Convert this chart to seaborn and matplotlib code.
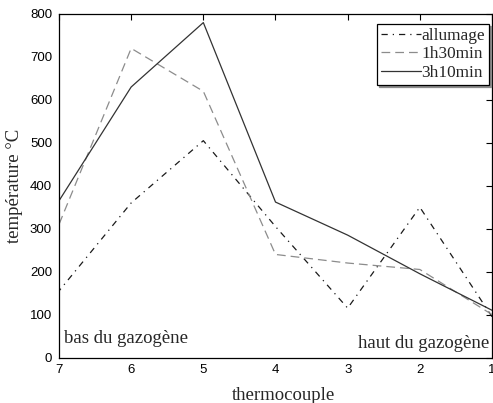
import matplotlib
matplotlib.use("Agg")
import matplotlib.pyplot as plt
import seaborn as sns
import pandas as pd

thermocouples = [7, 6, 5, 4, 3, 2, 1]
allumage = [155, 360, 505, 305, 115, 350, 95]
h1h30 = [310, 720, 620, 240, 220, 205, 100]
h3h10 = [365, 630, 780, 362, 285, 195, 110]
series_names = ["allumage", "1h30min", "3h10min"]
x_ticks = [7, 6, 5, 4, 3, 2, 1]
y_ticks = [0, 100, 200, 300, 400, 500, 600, 700, 800]

sns.set_style("white")
plt.rcParams['font.family'] = ['Liberation Serif', 'DejaVu Serif']

fig = plt.figure(figsize=(4.93, 4.03), dpi=100)
ax = fig.add_axes([59/493, 1-357.5/403, (492-59)/493, (357.5-14)/403])

styles = [
    dict(color="#1a1a1a", dashes=(5, 4, 1, 4)),
    dict(color="#8c8c8c", dashes=(7, 4)),
    dict(color="#333333", linestyle="-"),
]
for name, vals, st in zip(series_names, [allumage, h1h30, h3h10], styles):
    df = pd.DataFrame({"x": thermocouples, "y": vals})
    sns.lineplot(data=df, x="x", y="y", ax=ax, color=st["color"], linewidth=0.9, label=name)
    l = ax.lines[-1]
    if "dashes" in st:
        l.set_dashes(st["dashes"])

ax.set_xlim(7, 1)
ax.set_ylim(0, 800)
ax.set_xticks(x_ticks)
ax.set_yticks(y_ticks)
ax.set_xticklabels([str(t) for t in x_ticks], family="Liberation Sans", fontsize=9.5)
ax.set_yticklabels([str(t) for t in y_ticks], family="Liberation Sans", fontsize=9.5)
ax.tick_params(direction="in", top=True, right=True, length=4, width=0.8, pad=5, colors="black")
for s in ax.spines.values():
    s.set_visible(True)
    s.set_color("black")
    s.set_linewidth(0.9)

ax.set_xlabel("thermocouple", fontsize=13.5)
ax.xaxis.set_label_coords(0.518, -0.124)
ax.xaxis.label.set_va("baseline")
ax.set_ylabel("température °C", fontsize=13.5)
ax.yaxis.set_label_coords(-0.082, 0.5)

ax.text(6.93, 45, "bas du gazogène", fontsize=13.5, ha="left", va="center")
ax.text(1.04, 33, "haut du gazogène", fontsize=13.5, ha="right", va="center")

leg = ax.legend(loc="upper right", bbox_to_anchor=(0.993, 0.971), fontsize=12.4,
                handlelength=2.3, handletextpad=0.0, borderpad=0.25,
                labelspacing=0.12, frameon=True, fancybox=False, borderaxespad=0,
                shadow={'ox': 1.5, 'oy': -1.5, 'color': '0.55', 'alpha': 1.0})
leg.get_frame().set_edgecolor("black")
leg.get_frame().set_linewidth(0.9)

fig.savefig("out.png", dpi=100)
